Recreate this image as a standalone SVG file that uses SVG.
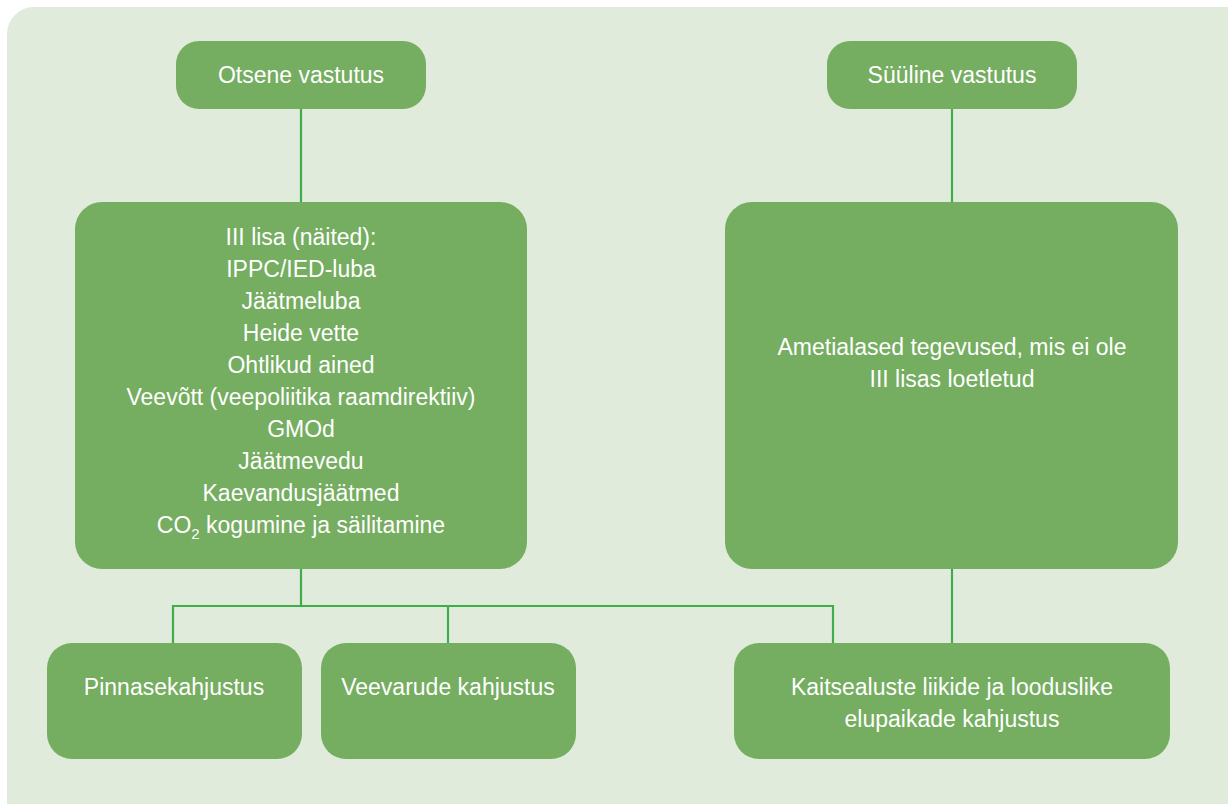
<svg xmlns="http://www.w3.org/2000/svg" width="1228" height="804" viewBox="0 0 1228 804">
<style>
.bg{fill:#E0EBDC}
.node{fill:#75AD61}
.t{font-family:"Liberation Sans",Arial,sans-serif;font-size:23px;fill:#FFFFFF;text-anchor:middle}
.c{fill:none;stroke:#3DAE49;stroke-width:2.2}
</style>
<rect x="0" y="0" width="1228" height="804" fill="#FFFFFF"/>
<rect class="bg" x="7" y="7" width="1250" height="830" rx="27"/>
<g id="connectors">
<line class="c" x1="301" y1="109" x2="301" y2="202"/>
<line class="c" x1="952" y1="109" x2="952" y2="202"/>
<line class="c" x1="301" y1="569" x2="301" y2="606"/>
<polyline class="c" points="173,643 173,606 833,606 833,643"/>
<line class="c" x1="448" y1="606" x2="448" y2="643"/>
<line class="c" x1="952" y1="569" x2="952" y2="643"/>
</g>
<g id="otsene">
<rect class="node" x="176" y="41" width="250" height="68" rx="23"/>
<text class="t" x="301" y="83">Otsene vastutus</text>
</g>
<g id="syyline">
<rect class="node" x="827" y="41" width="250" height="68" rx="23"/>
<text class="t" x="952" y="83">Süüline vastutus</text>
</g>
<g id="lisa3">
<rect class="node" x="75" y="202" width="452" height="367" rx="27"/>
<text class="t" x="301" y="245">III lisa (näited):</text>
<text class="t" x="301" y="277">IPPC/IED-luba</text>
<text class="t" x="301" y="309">Jäätmeluba</text>
<text class="t" x="301" y="341">Heide vette</text>
<text class="t" x="301" y="373">Ohtlikud ained</text>
<text class="t" x="301" y="405">Veevõtt (veepoliitika raamdirektiiv)</text>
<text class="t" x="301" y="437">GMOd</text>
<text class="t" x="301" y="469">Jäätmevedu</text>
<text class="t" x="301" y="501">Kaevandusjäätmed</text>
<text class="t" x="301" y="533">CO<tspan font-size="15" dy="6">2</tspan><tspan dy="-6"> kogumine ja säilitamine</tspan></text>
</g>
<g id="ametialased">
<rect class="node" x="725" y="202" width="453" height="367" rx="27"/>
<text class="t" x="952" y="355">Ametialased tegevused, mis ei ole</text>
<text class="t" x="952" y="387">III lisas loetletud</text>
</g>
<g id="pinnas">
<rect class="node" x="47" y="643" width="255" height="116" rx="25"/>
<text class="t" x="174" y="695">Pinnasekahjustus</text>
</g>
<g id="veevarud">
<rect class="node" x="321" y="643" width="255" height="116" rx="25"/>
<text class="t" x="448" y="695">Veevarude kahjustus</text>
</g>
<g id="kaitsealused">
<rect class="node" x="734" y="643" width="436" height="116" rx="25"/>
<text class="t" x="952" y="695">Kaitsealuste liikide ja looduslike</text>
<text class="t" x="952" y="727">elupaikade kahjustus</text>
</g>
</svg>
